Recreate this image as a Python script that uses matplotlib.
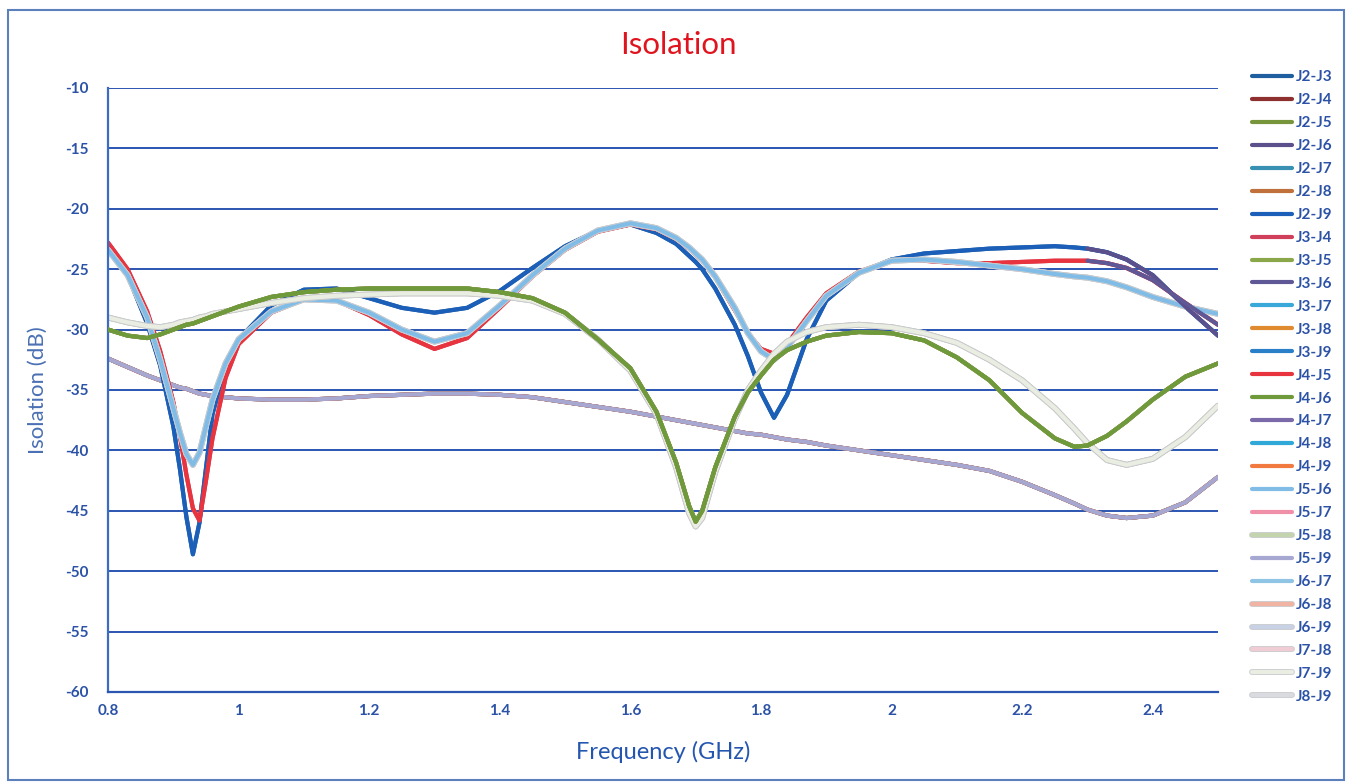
import matplotlib.pyplot as plt
import matplotlib.patheffects as pe
from matplotlib.patches import Rectangle
import numpy as np

# frequency grid (GHz), shared by all the traces
freq = [0.80, 0.83, 0.86, 0.88, 0.90, 0.91, 0.92, 0.93, 0.94, 0.95, 0.96, 0.98,
        1.00, 1.05, 1.10, 1.15, 1.20, 1.25, 1.30, 1.35, 1.40, 1.45, 1.50, 1.55,
        1.60, 1.64, 1.67, 1.69, 1.70, 1.71, 1.73, 1.76, 1.78, 1.80, 1.82, 1.84,
        1.87, 1.90, 1.95, 2.00, 2.05, 2.10, 2.15, 2.20, 2.25, 2.28, 2.30, 2.33,
        2.36, 2.40, 2.45, 2.50]

# dark blue family (deep notch at 0.93 GHz)
iso_a = [-23.2, -25.5, -29.5, -33.0, -38.0, -41.5, -45.5, -48.6, -46.0, -41.5, -37.0, -33.0,
         -30.8, -28.0, -26.7, -26.6, -27.4, -28.2, -28.6, -28.2, -26.8, -24.9, -23.1, -21.8,
         -21.3, -22.0, -22.9, -23.9, -24.4, -25.0, -26.6, -29.6, -32.2, -35.2, -37.3, -35.4,
         -30.8, -27.6, -25.3, -24.2, -23.7, -23.5, -23.3, -23.2, -23.1, -23.2, -23.3, -23.6,
         -24.2, -25.5, -28.1, -30.5]

# red family
iso_b = [-22.8, -25.0, -28.5, -31.8, -36.0, -38.8, -42.0, -44.8, -45.8, -42.5, -39.0, -34.0,
         -31.2, -28.6, -27.5, -27.6, -28.8, -30.4, -31.6, -30.7, -28.2, -25.6, -23.4, -21.9,
         -21.3, -21.7, -22.5, -23.3, -23.8, -24.3, -25.7, -28.4, -30.3, -31.6, -32.0, -31.2,
         -29.0, -27.0, -25.2, -24.3, -24.3, -24.5, -24.5, -24.4, -24.3, -24.3, -24.3, -24.5,
         -24.9, -25.9, -27.8, -29.6]

# light blue / pale family
iso_c = [-23.4, -25.5, -29.0, -32.5, -36.5, -38.5, -40.3, -41.2, -40.2, -38.0, -35.8, -32.8,
         -30.8, -28.5, -27.5, -27.6, -28.6, -30.0, -31.0, -30.3, -28.0, -25.5, -23.3, -21.8,
         -21.2, -21.6, -22.4, -23.2, -23.7, -24.2, -25.6, -28.2, -30.3, -31.8, -32.5, -31.5,
         -29.3, -27.2, -25.3, -24.3, -24.2, -24.4, -24.7, -25.0, -25.4, -25.6, -25.7, -26.0,
         -26.5, -27.3, -28.1, -28.7]

# green family (notch at 1.70 GHz)
iso_d = [-30.0, -30.5, -30.7, -30.4, -30.0, -29.8, -29.6, -29.5, -29.3, -29.1, -28.9, -28.5,
         -28.1, -27.3, -26.9, -26.7, -26.6, -26.6, -26.6, -26.6, -26.9, -27.4, -28.6, -30.8,
         -33.2, -36.8, -41.0, -44.6, -45.9, -45.0, -41.4, -37.2, -35.2, -33.8, -32.5, -31.7,
         -31.0, -30.5, -30.2, -30.3, -30.9, -32.3, -34.2, -36.9, -39.0, -39.7, -39.6, -38.8,
         -37.6, -35.8, -33.9, -32.8]

# whitish family
iso_e = [-29.0, -29.4, -29.7, -29.8, -29.6, -29.4, -29.3, -29.2, -29.0, -28.9, -28.7, -28.5,
         -28.3, -27.8, -27.4, -27.2, -27.1, -27.0, -27.0, -27.0, -27.2, -27.6, -28.7, -30.8,
         -33.4, -37.0, -41.4, -45.2, -46.3, -45.6, -41.8, -37.4, -35.0, -33.4, -32.0, -31.0,
         -30.2, -29.8, -29.6, -29.8, -30.3, -31.1, -32.5, -34.2, -36.5, -38.2, -39.4, -40.8,
         -41.2, -40.7, -38.9, -36.3]

# lavender family (slow slope)
iso_f = [-32.4, -33.1, -33.8, -34.2, -34.6, -34.8, -34.9, -35.1, -35.3, -35.4, -35.5, -35.6,
         -35.7, -35.8, -35.8, -35.7, -35.5, -35.4, -35.3, -35.3, -35.4, -35.6, -36.0, -36.4,
         -36.8, -37.2, -37.5, -37.7, -37.8, -37.9, -38.1, -38.4, -38.6, -38.7, -38.9, -39.1,
         -39.3, -39.6, -40.0, -40.4, -40.8, -41.2, -41.7, -42.6, -43.7, -44.4, -44.9, -45.4,
         -45.6, -45.4, -44.3, -42.2]

families = {"a": iso_a, "b": iso_b, "c": iso_c, "d": iso_d, "e": iso_e, "f": iso_f}

# legend order: label, family, colour
series = [
    ("J2-J3", "a", "#1f5fa0"),
    ("J2-J4", "d", "#8e2f30"),
    ("J2-J5", "d", "#77963c"),
    ("J2-J6", "a_tail", "#5b4f8c"),
    ("J2-J7", "c", "#3890b2"),
    ("J2-J8", "f", "#c0703a"),
    ("J2-J9", "a", "#1c5fb8"),
    ("J3-J4", "b", "#d0405a"),
    ("J3-J5", "d", "#8aa84a"),
    ("J3-J6", "b_tail", "#5e5896"),
    ("J3-J7", "c", "#3aa8d8"),
    ("J3-J8", "f", "#e08a30"),
    ("J3-J9", "f", "#2a80c8"),
    ("J4-J5", "b", "#e8343f"),
    ("J4-J6", "d", "#6f9a3c"),
    ("J4-J7", "f", "#7a6aaa"),
    ("J4-J8", "c", "#30a8d8"),
    ("J4-J9", "f", "#f07a40"),
    ("J5-J6", "c", "#80bce6"),
    ("J5-J7", "c", "#f090a8"),
    ("J5-J8", "e", "#c4d4ac"),
    ("J5-J9", "f", "#a6a8d2"),
    ("J6-J7", "c", "#90c4e4"),
    ("J6-J8", "e", "#f2b4a2"),
    ("J6-J9", "c", "#c8d2e4"),
    ("J7-J8", "c", "#f0ccd4"),
    ("J7-J9", "e", "#eaeee2"),
    ("J8-J9", "c", "#d9dbe0"),
]

pale = {"J5-J8", "J6-J8", "J6-J9", "J7-J8", "J7-J9", "J8-J9"}
layer = {"f": 2.0, "a": 2.2, "b": 2.3, "c": 2.4, "e": 2.5, "d": 2.6, "a_tail": 2.8, "b_tail": 2.8}

plt.rcParams["font.family"] = ["Lato", "DejaVu Sans"]
blue_txt = "#2b52a6"

fig = plt.figure(figsize=(13.52, 7.82), dpi=100)
ax = fig.add_axes([0.0799, 0.1151, 0.8210, 0.7724])

f_arr = np.array(freq)
tail = f_arr >= 2.30
for label, fam, col in series:
    if fam.endswith("_tail"):
        y = np.array(families[fam[0]])
        x_plot, y_plot = f_arr[tail], y[tail]
    else:
        x_plot, y_plot = f_arr, np.array(families[fam])
    kw = {}
    if label in pale:
        kw["path_effects"] = [pe.Stroke(linewidth=4.2, foreground="#c9cacc"), pe.Normal()]
    z = layer[fam]
    if label == "J5-J6":
        z = 2.45  # the light blue trace sits on top of its bundle
    ax.plot(x_plot, y_plot, color=col, lw=3.0, label=label, solid_capstyle="round",
            zorder=z, **kw)

ax.set_xlim(0.8, 2.5)
ax.set_ylim(-60, -10)
ax.set_xticks([0.8, 1.0, 1.2, 1.4, 1.6, 1.8, 2.0, 2.2, 2.4])
ax.set_xticklabels(["0.8", "1", "1.2", "1.4", "1.6", "1.8", "2", "2.2", "2.4"])
ax.set_yticks(np.arange(-60, -9, 5))
ax.set_yticklabels(["-" + str(abs(v)) for v in range(-60, -9, 5)])
ax.grid(axis="y", color="#2a55b0", lw=1.4)
ax.set_axisbelow(True)
ax.tick_params(length=0, labelsize=11, labelcolor=blue_txt)
ax.tick_params(axis="y", pad=14)
ax.tick_params(axis="x", pad=9)
for t in ax.get_xticklabels() + ax.get_yticklabels():
    t.set_fontweight("bold")
for s in ["top", "right"]:
    ax.spines[s].set_visible(False)
ax.spines["left"].set_color("#3b6cc0")
ax.spines["left"].set_linewidth(1.6)
ax.spines["bottom"].set_color("#2a55b0")
ax.spines["bottom"].set_linewidth(1.6)

ax.set_xlabel("Frequency (GHz)", fontsize=17, color="#2456b0", labelpad=16)
ax.set_ylabel("Isolation (dB)", fontsize=16, color="#4a70b4", labelpad=12)
fig.text(0.5015, 0.943, "Isolation", fontsize=22.5, color="#e0141e", ha="center", va="center")

leg = ax.legend(loc="upper left", bbox_to_anchor=(0.926, 0.910), bbox_transform=fig.transFigure,
                frameon=False, fontsize=11, labelspacing=0.585, handlelength=2.6,
                handletextpad=0.25, borderpad=0, borderaxespad=0)
for t in leg.get_texts():
    t.set_color(blue_txt)
    t.set_fontweight("bold")
for h in leg.get_lines():
    h.set_linewidth(3.0)

# outer chart frame
fig.patches.append(Rectangle((0.006, 0.003), 0.988, 0.984, transform=fig.transFigure,
                             fill=False, edgecolor="#5b80bc", lw=1.5))

fig.savefig("out.png", dpi=100)
